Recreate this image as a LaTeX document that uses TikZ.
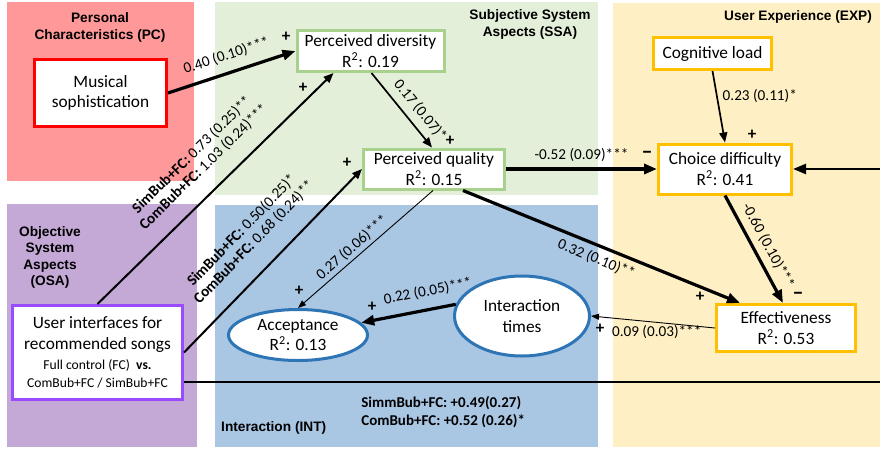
\documentclass[tikz,border=0pt]{standalone}
\usepackage{fontspec}
\setmainfont{Carlito}
\newfontfamily\headfont{Liberation Sans}
\usetikzlibrary{arrows.meta,shapes.geometric,positioning}

\definecolor{pcfill}{RGB}{255,153,153}
\definecolor{ssafill}{RGB}{228,239,218}
\definecolor{expfill}{RGB}{254,240,196}
\definecolor{osafill}{RGB}{196,169,215}
\definecolor{intfill}{RGB}{169,198,227}
\definecolor{msred}{RGB}{255,0,0}
\definecolor{ssagreen}{RGB}{169,209,142}
\definecolor{expgold}{RGB}{255,192,0}
\definecolor{osapurple}{RGB}{155,75,255}
\definecolor{ovalblue}{RGB}{46,117,182}

\tikzset{
  box/.style={draw, line width=3pt, fill=white, align=center, inner sep=2pt,
    font=\fontsize{17.3}{20.5}\selectfont},
  oval/.style={ellipse, draw=ovalblue, line width=3pt, fill=white, align=center,
    inner sep=0pt, font=\fontsize{17.3}{20.5}\selectfont},
  lab/.style={inner sep=2pt, font=\fontsize{15.2}{17}\selectfont},
  areahead/.style={align=center, inner sep=0pt, font=\headfont\bfseries\fontsize{13.7}{16.5}\selectfont},
  sign/.style={inner sep=0pt, font=\bfseries\fontsize{17}{17}\selectfont},
  heavy/.style={line width=3.2pt, -{Triangle[length=13pt,width=10pt]}},
  medium/.style={line width=2pt, -{Triangle[length=10pt,width=8pt]}},
  light/.style={line width=0.9pt, -{Triangle[length=8pt,width=6pt]}},
}

\begin{document}
\begin{tikzpicture}[x=1pt,y=-1pt]
\useasboundingbox (0,0) rectangle (880,450);

% areas
\fill[pcfill] (7,2) rectangle (194,181);
\fill[ssafill] (215,2) rectangle (598,195);
\fill[expfill] (613,3) rectangle (880,447);
\fill[osafill] (7,204) rectangle (197,447);
\fill[intfill] (215,205) rectangle (598,447);

\node[areahead] (pchead) at (100,27.5) {Personal\\Characteristics (PC)};
\node[areahead] (ssahead) at (530,24.5) {Subjective System\\Aspects (SSA)};
\node[areahead] (exphead) at (798,17) {User Experience (EXP)};
\node[areahead] (osahead) at (50,257.5) {Objective\\System\\Aspects\\(OSA)};
\node[areahead, anchor=west] (inthead) at (221,428) {Interaction (INT)};

% constructs
\node[box, draw=msred, minimum width=132pt, minimum height=67pt] (ms) at (100.5,93) {Musical\\sophistication};
\node[box, draw=ssagreen, minimum width=147pt, minimum height=41pt] (pd) at (370.5,51) {Perceived diversity\\R\textsuperscript{2}: 0.19};
\node[box, draw=ssagreen, minimum width=141pt, minimum height=40pt] (pq) at (434,169) {Perceived quality\\R\textsuperscript{2}: 0.15};
\node[box, draw=expgold, minimum width=118pt, minimum height=32pt] (cl) at (712.5,53.5) {Cognitive load};
\node[box, draw=expgold, minimum width=133pt, minimum height=50pt] (cd) at (725,169) {Choice difficulty\\R\textsuperscript{2}: 0.41};
\node[box, draw=expgold, minimum width=139pt, minimum height=47pt] (eff) at (786,328) {Effectiveness\\R\textsuperscript{2}: 0.53};
\node[oval, minimum width=139pt, minimum height=51pt] (acc) at (298,335) {Acceptance\\R\textsuperscript{2}: 0.13};
\node[oval, minimum width=135pt, minimum height=80pt] (it) at (522,316) {Interaction\\times};
\node[box, draw=osapurple, minimum width=170pt, minimum height=94pt] (ui) at (97.5,352.5)
  {User interfaces for\\recommended songs\\
   {\fontsize{13.6}{16}\selectfont Full control (FC)~~\textbf{vs.}}\\[-3pt]
   {\fontsize{13.6}{16}\selectfont ComBub+FC / SimBub+FC}};

\coordinate (edge) at (880,169);
\coordinate (rim) at (880,382);

% paths
\draw[heavy] (ms.east) -- (pd.west) node[lab, sloped, above=7pt, pos=0.5] {0.40 (0.10)***};
\draw[medium] (ui.north) -- ([xshift=-37pt]pd.south)
  node[lab, sloped, above=14pt, pos=0.52, align=center] {\textbf{SimBub+FC:} 0.73 (0.25)**\\\textbf{ComBub+FC:} 1.03 (0.24)***};
\draw[medium] (ui.east) -- (pq.west)
  node[lab, sloped, above=17pt, pos=0.5, align=center] {\textbf{SimBub+FC:} 0.50(0.25)*\\\textbf{ComBub+FC:} 0.68 (0.24)**};
\draw[medium, line width=1.7pt] ([xshift=1pt]pd.south) -- ([xshift=-2pt]pq.north)
  node[lab, sloped, above=5pt, pos=0.62] {0.17 (0.07)*};
\draw[heavy, line width=3.5pt] (pq.east) -- (cd.west) node[lab, above=4pt, pos=0.5] {-0.52 (0.09)***};
\draw[medium, line width=1.7pt] (cl.south) -- (cd.north) node[lab, right=3pt, pos=0.35] {0.23 (0.11)*};
\draw[heavy, line width=2.5pt] (edge) -- (cd.east);
\draw[heavy] (cd.south) -- ([xshift=-3pt]eff.north)
  node[lab, sloped, above=4pt, pos=0.53] {-0.60 (0.10)***};
\draw[heavy] ([xshift=29pt]pq.south) -- ([xshift=-46pt]eff.north)
  node[lab, sloped, below=3pt, pos=0.5] {0.32 (0.10)**};
\draw[light] ([xshift=-1pt]pq.south) -- (acc.north)
  node[lab, sloped, above=1pt, pos=0.55] {0.27 (0.06)***};
\draw[heavy] (it.170) -- (acc) node[lab, sloped, above=8pt, pos=0.26] {0.22 (0.05)***};
\draw[light] (eff.west) -- (it.east) node[lab, below=1pt, pos=0.47] {0.09 (0.03)***};
\draw[line width=2.5pt] ([yshift=-29.5pt]ui.east) -- (rim)
  node[pos=0.253, anchor=north west, inner sep=0pt, yshift=-13pt, align=left,
    font=\bfseries\fontsize{15}{18}\selectfont] {SimmBub+FC: +0.49(0.27)\\ComBub+FC: +0.52 (0.26)*};

% signs
\node[sign] (s1) at (286,37) {+};
\node[sign] (s2) at (303,88) {+};
\node[sign] (s3) at (347,163) {+};
\node[sign] (s4) at (450,141) {+};
\node[sign] (s5) at (752,135) {+};
\node[sign, font=\bfseries\fontsize{22}{22}\selectfont] (s6) at (647,155) {--};
\node[sign, font=\bfseries\fontsize{22}{22}\selectfont] (s7) at (798,296) {--};
\node[sign] (s8) at (700,297) {+};
\node[sign] (s9) at (600,329) {+};
\node[sign] (s10) at (372,307) {+};
\node[sign] (s11) at (299,291) {+};

\end{tikzpicture}
\end{document}
